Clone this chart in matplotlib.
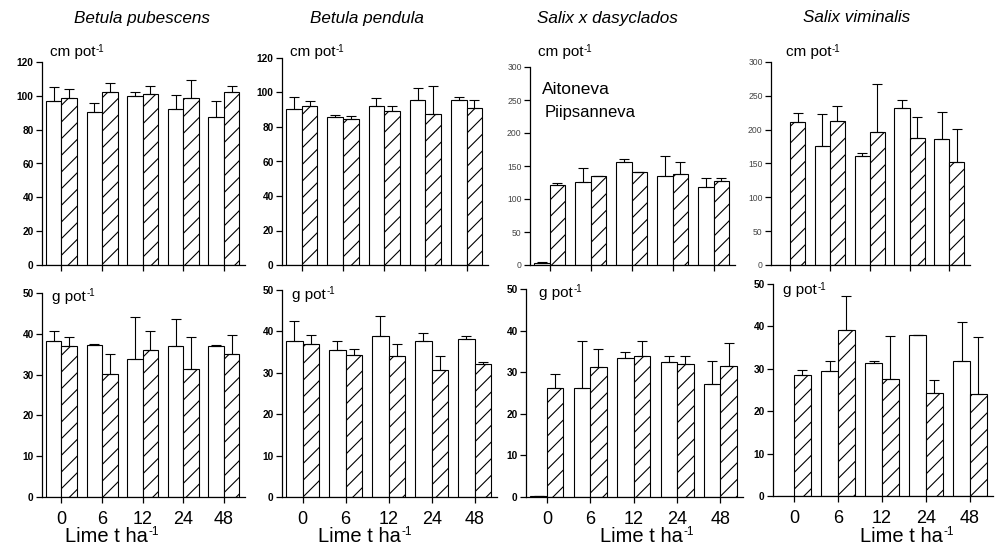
import numpy as np
import matplotlib
matplotlib.use('Agg')
import matplotlib.pyplot as plt

plt.rcParams['font.family'] = ['Liberation Sans', 'DejaVu Sans']
plt.rcParams['hatch.linewidth'] = 0.8

lime = ['0', '6', '12', '24', '48']
species = ['Betula pubescens', 'Betula pendula', 'Salix x dasyclados', 'Salix viminalis']

# shoot length, cm pot-1 (Aitoneva = open, Piipsanneva = hatched)
cm_aito = [[97, 90.6, 99.7, 92.4, 87.3],
           [90.4, 85.7, 91.9, 95.4, 95.4],
           [3.5, 126.5, 155.5, 134.5, 118.5],
           [0, 175.6, 160.8, 232, 186]]
cm_aito_err = [[8, 5.4, 2.3, 8.1, 9.7],
               [7, 1.2, 4.9, 7.2, 2],
               [1, 20, 5, 31, 13],
               [0, 47.2, 5, 12.5, 39.8]]
cm_piip = [[98.5, 102.5, 101, 98.5, 102.5],
           [91.9, 84.6, 89, 87.7, 91],
           [120.5, 135, 140.5, 138.5, 128],
           [211.5, 213, 196.8, 188.4, 152.5]]
cm_piip_err = [[5.5, 4.9, 5, 10.9, 3.5],
               [2.9, 1.5, 3.3, 15.8, 4.8],
               [4.5, 0.5, 1, 17, 4],
               [13.5, 22, 70.2, 29.6, 49.2]]

# dry mass, g pot-1
g_aito = [[38.3, 37.2, 33.9, 36.9, 37.1],
          [37.8, 35.6, 39.0, 37.6, 38.2],
          [0.2, 26.2, 33.3, 32.5, 27.2],
          [0, 29.5, 31.3, 37.9, 31.9]]
g_aito_err = [[2.3, 0.4, 10.2, 6.7, 0.1],
              [4.7, 2.0, 4.6, 2.0, 0.7],
              [0, 11.4, 1.5, 1.5, 5.5],
              [0, 2.3, 0.5, 0, 9.1]]
g_piip = [[37, 30.1, 36, 31.4, 35],
          [37.0, 34.3, 34.1, 30.7, 32.1],
          [26.2, 31.3, 33.8, 31.9, 31.6],
          [28.5, 39.1, 27.6, 24.4, 24.0]]
g_piip_err = [[2.3, 5, 4.6, 7.7, 4.8],
              [2.1, 1.4, 2.9, 3.3, 0.5],
              [3.3, 4.2, 3.8, 1.9, 5.5],
              [1.3, 8.1, 10.2, 3.0, 13.4]]

W, H = 1003, 551
# axes boxes in pixels: left, right, top, bottom(zero)
top_boxes = [(42, 245, 62, 265), (282, 488, 58, 265), (530, 735, 67, 265), (771, 970, 62, 265)]
bot_boxes = [(42, 245, 293, 497), (282, 497, 290, 497), (526, 743, 289, 497), (773, 993, 284, 496)]
title_x = [142, 367, 607, 857]
cm_lab = [(50, 52), (290, 52), (538, 52), (786, 52)]
g_lab = [(52, 297), (292, 295), (539, 293), (783, 290)]
xlab_x = [65, 318, 600, 860]

fig = plt.figure(figsize=(W / 100, H / 100), dpi=100)
renderer = fig.canvas.get_renderer()


def add_ax(box):
    l, r, t, b = box
    return fig.add_axes([l / W, 1 - b / H, (r - l) / W, (b - t) / H])


def sup_text(x, y, base, size, ssize):
    t = fig.text(x / W, 1 - y / H, base, fontsize=size, ha='left', va='center')
    bb = t.get_window_extent(renderer)
    fig.text((bb.x1 + 0.5) / W, (bb.y1 + 1.5) / H, '-1', fontsize=ssize,
             ha='left', va='top')


def draw(ax, a, ae, p, pe, ymax, step, bold):
    x = np.arange(len(lime))
    w = 0.38
    a = np.array(a, float)
    p = np.array(p, float)
    ax.bar(x - w / 2, a, w, color='white', edgecolor='black', linewidth=0.8)
    ax.bar(x + w / 2, p, w, color='white', edgecolor='black', linewidth=0.8, hatch='//')
    m = a > 0
    ax.errorbar((x - w / 2)[m], a[m], yerr=[np.zeros(m.sum()), np.array(ae)[m]],
                fmt='none', ecolor='black', elinewidth=0.8, capsize=3.5, capthick=0.8)
    ax.errorbar(x + w / 2, p, yerr=[np.zeros(len(p)), pe],
                fmt='none', ecolor='black', elinewidth=0.8, capsize=3.5, capthick=0.8)
    ax.set_xlim(-0.48, 4.52)
    ax.set_ylim(0, ymax)
    ax.set_yticks(np.arange(0, ymax + 1, step))
    ax.set_xticks(x)
    for s in ['top', 'right']:
        ax.spines[s].set_visible(False)
    for s in ['left', 'bottom']:
        ax.spines[s].set_linewidth(0.9)
    ax.tick_params(axis='both', direction='out', length=4, width=0.9)
    if bold:
        ax.tick_params(axis='y', labelsize=7.3, pad=2)
        for t in ax.get_yticklabels():
            t.set_fontweight('bold')
    else:
        ax.tick_params(axis='y', labelsize=6.2, pad=2, labelcolor='#444444')


for i in range(4):
    ax = add_ax(top_boxes[i])
    ymax = 120 if i < 2 else 300
    step = 20 if i < 2 else 50
    draw(ax, cm_aito[i], cm_aito_err[i], cm_piip[i], cm_piip_err[i], ymax, step, i < 2)
    ax.set_xticklabels([])
    fig.text(title_x[i] / W, 1 - 18 / H, species[i], fontsize=12.3, style='italic',
             ha='center', va='center')
    sup_text(cm_lab[i][0], cm_lab[i][1], 'cm pot', 11, 7)

    ax = add_ax(bot_boxes[i])
    draw(ax, g_aito[i], g_aito_err[i], g_piip[i], g_piip_err[i], 50, 10, True)
    ax.set_xticklabels(lime, fontsize=13)
    ax.tick_params(axis='x', pad=6)
    sup_text(g_lab[i][0], g_lab[i][1], 'g pot', 11, 7)
    sup_text(xlab_x[i], 537, 'Lime t ha', 14.5, 8.5)

fig.text(542 / W, 1 - 90 / H, 'Aitoneva', fontsize=12.5, ha='left', va='center')
fig.text(545 / W, 1 - 112 / H, 'Piipsanneva', fontsize=12, ha='left', va='center')

fig.savefig('out.png', dpi=100)
